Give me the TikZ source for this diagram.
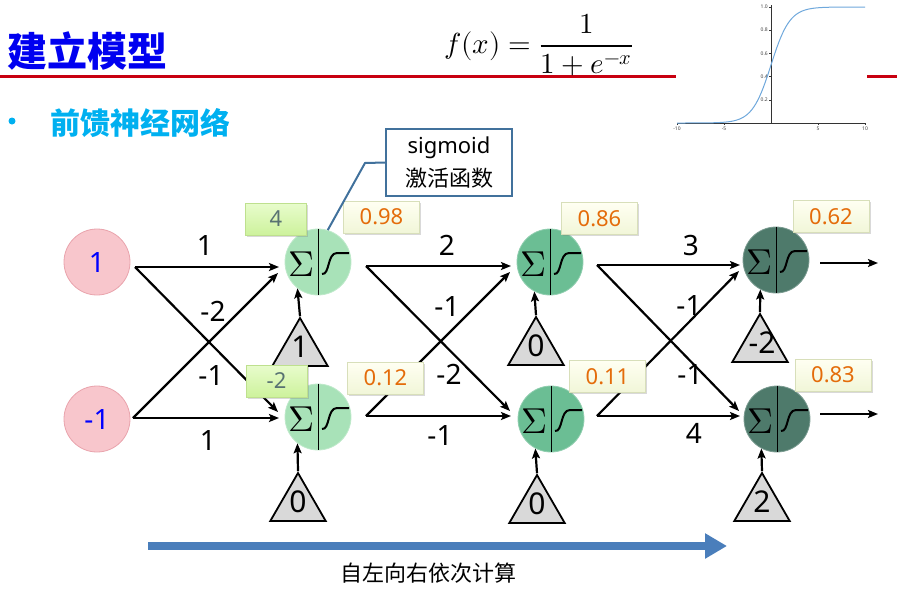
\documentclass[tikz,border=0pt]{standalone}
\usepackage{fontspec}
\usepackage{unicode-math}
\setmainfont{Noto Sans}
\setmathfont{Latin Modern Math}
\newfontfamily\cjk{Noto Sans CJK SC}
\usetikzlibrary{arrows.meta,shapes.geometric,shadows}
\definecolor{titleblue}{HTML}{0000F0}
\definecolor{subcyan}{HTML}{00B0F0}
\definecolor{redline}{HTML}{C80010}
\definecolor{inpink}{HTML}{F8C6CC}
\definecolor{inpinkd}{HTML}{E9A3AC}
\definecolor{lay1}{HTML}{A8E2B8}
\definecolor{lay2}{HTML}{6BBE94}
\definecolor{lay3}{HTML}{4E7A6B}
\definecolor{trigray}{HTML}{D9D9D9}
\definecolor{sumtxt}{HTML}{587272}
\definecolor{sumtop}{HTML}{E8FCCC}
\definecolor{sumbot}{HTML}{CDF29C}
\definecolor{sumdraw}{HTML}{BEE08E}
\definecolor{valtop}{HTML}{FFFFF2}
\definecolor{valbot}{HTML}{F1F6D8}
\definecolor{valdraw}{HTML}{D8DFBA}
\definecolor{valtxt}{HTML}{E46C0A}
\definecolor{callblue}{HTML}{41719C}
\definecolor{arrowblue}{HTML}{4A7EBB}
\definecolor{plotblue}{HTML}{6FA8DC}
\newcommand\myneuron[4]{%
  \node[neuron, fill=#4, draw=#4!75!white] (#1) at (#2,#3) {};
  \draw[line width=0.8pt] (#1.north) -- (#1.south);
  \begin{scope}[shift={(#2,#3)}]
    \node[inner sep=0, font=\fontsize{36}{36}\selectfont] (#1s) at (-17,2) {$\Sigma$};
    \draw[line width=2pt] (4,12) .. controls (12,13) and (9,-9) .. (19,-9) -- (31,-9);
  \end{scope}
}
\begin{document}
\begin{tikzpicture}[x=1pt,y=-1pt,
  edge/.style={line width=2.2pt, -{Stealth[length=10pt,width=8pt,inset=2pt]}},
  lab/.style={inner sep=0, font=\fontsize{28}{30}\selectfont},
  inp/.style={circle, minimum size=66pt, inner sep=0, fill=inpink, draw=inpinkd, line width=0.8pt, text=blue, font=\fontsize{28}{30}\selectfont},
  neuron/.style={circle, minimum size=66pt, inner sep=0, line width=0.8pt},
  sumbox/.style={rectangle, minimum width=61pt, minimum height=32pt, inner sep=0, top color=sumtop, bottom color=sumbot, draw=sumdraw, text=sumtxt, font=\fontsize{22}{24}\selectfont, drop shadow={shadow xshift=1.5pt, shadow yshift=-1.5pt, opacity=0.3}},
  valbox/.style={rectangle, minimum width=76pt, minimum height=32pt, inner sep=0, top color=valtop, bottom color=valbot, draw=valdraw, text=valtxt, font=\fontsize{22}{24}\selectfont, drop shadow={shadow xshift=1.5pt, shadow yshift=-1.5pt, opacity=0.3}},
  tri/.style={regular polygon, regular polygon sides=3, minimum size=64pt, inner sep=0, draw=black, line width=1.8pt, fill=trigray},
  tritxt/.style={inner sep=0, font=\fontsize{30}{30}\selectfont},
  callbox/.style={rectangle, draw=callblue, line width=2pt, fill=white, minimum width=126pt, minimum height=67pt, inner sep=0, align=center, font=\fontsize{22}{33}\selectfont}
]
\useasboundingbox (0,0) rectangle (897,590);
% header
\draw[redline, line width=3pt] (0,76) -- (897,76);
\fill[white] (676,0) rectangle (867,134);
\node[anchor=west, inner sep=0, text=titleblue, font=\cjk\bfseries\fontsize{40}{40}\selectfont] (title) at (7,51) {建立模型};
\node[circle, fill=subcyan, minimum size=7pt, inner sep=0] (bul) at (12,121) {};
\node[anchor=west, inner sep=0, text=subcyan, font=\cjk\bfseries\fontsize{30}{30}\selectfont] (sub) at (50,123) {前馈神经网络};
\node[inner sep=0, font=\fontsize{29}{32}\selectfont] (formula) at (539,45) {$\displaystyle f(x)=\frac{1}{1+e^{-x}}$};
% sigmoid plot
\begin{scope}[line width=0.5pt]
  \draw[black!80] (677,123) -- (865,123);
  \draw[black!80] (771,5) -- (771,123);
  \foreach \t/\l in {-10/-10,-5/-5,5/5,10/10}{
    \draw[black!80] ({771+9.4*\t},123) -- ({771+9.4*\t},125);
    \node[inner sep=0, font=\fontsize{5}{5}\selectfont, text=black!75] (xt\l) at ({771+9.4*\t},129) {\l};
  }
  \foreach \v in {0.2,0.4,0.6,0.8,1.0}{
    \draw[black!80] (769,{123-116*\v}) -- (771,{123-116*\v});
    \node[inner sep=0, anchor=east, font=\fontsize{5}{5}\selectfont, text=black!75] (yt\v) at (768,{123-116*\v}) {\v};
  }
  \draw[plotblue, line width=1pt] plot[domain=-10:0, samples=50] ({771+9.4*\x},{123-116*exp(\x)/(1+exp(\x))})
    -- plot[domain=0:10, samples=50] ({771+9.4*\x},{123-116/(1+exp(-\x))});
\end{scope}
% coordinates
\coordinate (i1o) at (135,267); \coordinate (i2o) at (133,418);
\coordinate (h11i) at (279,267); \coordinate (h11d) at (278,273);
\coordinate (h12i) at (279,418); \coordinate (h12d) at (278,412);
\coordinate (h11o) at (366,266); \coordinate (h12o) at (366,416);
\coordinate (h21i) at (511,266); \coordinate (h21d) at (510,272);
\coordinate (h22i) at (511,416); \coordinate (h22d) at (510,411);
\coordinate (h21o) at (597,265); \coordinate (h22o) at (597,416);
\coordinate (o1i) at (740,265); \coordinate (o1d) at (739,271);
\coordinate (o2i) at (740,416); \coordinate (o2d) at (739,411);
\coordinate (o1o) at (820,263); \coordinate (o2o) at (820,414);
\coordinate (out1) at (878,263); \coordinate (out2) at (878,414);
% edges
\draw[edge] (i1o) -- (h11i);
\draw[edge] (i1o) -- (h12d);
\draw[edge] (i2o) -- (h11d);
\draw[edge] (i2o) -- (h12i);
\draw[edge] (h11o) -- (h21i);
\draw[edge] (h11o) -- (h22d);
\draw[edge] (h12o) -- (h21d);
\draw[edge] (h12o) -- (h22i);
\draw[edge] (h21o) -- (o1i);
\draw[edge] (h21o) -- (o2d);
\draw[edge] (h22o) -- (o1d);
\draw[edge] (h22o) -- (o2i);
\draw[edge] (o1o) -- (out1);
\draw[edge] (o2o) -- (out2);
% edge labels
\node[lab] (w1) at (205,245) {1};
\node[lab] (w2) at (213,311) {-2};
\node[lab] (w3) at (211,375) {-1};
\node[lab] (w4) at (208,440) {1};
\node[lab] (w5) at (447,245) {2};
\node[lab] (w6) at (447,306) {-1};
\node[lab] (w7) at (449,374) {-2};
\node[lab] (w8) at (440,435) {-1};
\node[lab] (w9) at (691,245) {3};
\node[lab] (w10) at (689,305) {-1};
\node[lab] (w11) at (690,374) {-1};
\node[lab] (w12) at (694,433) {4};
% neurons
\node[inp] (i1) at (97,262) {1};
\node[inp] (i2) at (97,419) {-1};
\myneuron{h11}{318}{262}{lay1}
\myneuron{h12}{318}{417}{lay1}
\myneuron{h21}{550}{262}{lay2}
\myneuron{h22}{551}{419}{lay2}
\myneuron{o1}{776}{260}{lay3}
\myneuron{o2}{777}{419}{lay3}
% biases
\node[tri] (t11) at (300,350) {}; \node[tritxt] (t11t) at (300,347) {1};
\node[tri] (t12) at (298,505) {}; \node[tritxt] (t12t) at (298,502) {0};
\node[tri] (t21) at (536,349) {}; \node[tritxt] (t21t) at (536,346) {0};
\node[tri] (t22) at (537,507) {}; \node[tritxt] (t22t) at (537,504) {0};
\node[tri] (t31) at (760,346) {}; \node[tritxt] (t31t) at (762,343) {-2};
\node[tri] (t32) at (762,505) {}; \node[tritxt] (t32t) at (762,502) {2};
\draw[edge] (t11.corner 1) -- (h11.232);
\draw[edge] (t12.corner 1) -- (h12.232);
\draw[edge] (t21.corner 1) -- (h21.242);
\draw[edge] (t22.corner 1) -- (h22.242);
\draw[edge] (t31.corner 1) -- (o1.242);
\draw[edge] (t32.corner 1) -- (o2.242);
% value boxes
\node[sumbox] (s11) at (276,219) {4};
\node[sumbox] (s12) at (276.5,381) {-2};
\node[valbox] (v11) at (381.5,217) {0.98};
\node[valbox] (v12) at (385.5,378) {0.12};
\node[valbox] (v21) at (599.5,218.5) {0.86};
\node[valbox] (v22) at (607.5,376.5) {0.11};
\node[valbox] (v31) at (831,216.5) {0.62};
\node[valbox] (v32) at (833,375) {0.83};
% callout
\node[callbox] (cb) at (449,162.5) {sigmoid\\{\cjk 激活函数}};
\coordinate (cbk) at (365,163);
\draw[callblue, line width=2pt] (cb.west) -- (cbk) -- (h11.73);
% bottom arrow
\coordinate (ba) at (148,546);
\coordinate (bb) at (727,546);
\draw[arrowblue, line width=8pt, -{Triangle[length=22pt,width=24pt]}] (ba) -- (bb);
\node[inner sep=0, font=\cjk\fontsize{22}{24}\selectfont] (bt) at (428,573) {自左向右依次计算};
\end{tikzpicture}
\end{document}
